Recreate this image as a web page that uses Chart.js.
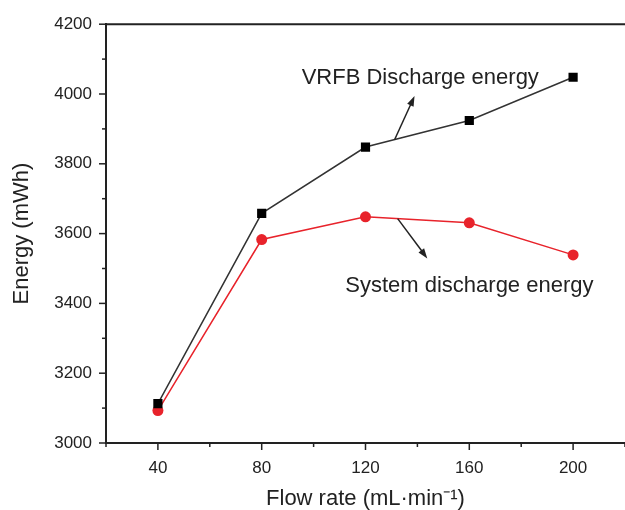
<!DOCTYPE html>
<html>
<head>
<meta charset="utf-8">
<script src="https://cdn.jsdelivr.net/npm/chart.js@4/dist/chart.umd.min.js"></script>
<style>
    html, body { margin: 0; padding: 0; background: #fff; overflow: hidden; }
    #wrap { width: 625px; height: 510px; overflow: hidden; }
</style>
</head>
<body>
<div id="wrap"><canvas id="energyChart" width="640" height="510"></canvas></div>
<script>
// ================= DATA =================
const flowRates = [40, 80, 120, 160, 200];
const vrfbEnergy = [3113, 3658, 3848, 3924, 4048];
const systemEnergy = [3093, 3583, 3648, 3631, 3539];
const xMajorTicks = [40, 80, 120, 160, 200];
const yMajorTicks = [3000, 3200, 3400, 3600, 3800, 4000, 4200];

const FONT = "'Liberation Sans', Arial, Helvetica, sans-serif";
const INK = "#222";

// text + arrows placed in data coordinates
const notes = [
    { text: "VRFB Discharge energy", x: 95.4, y: 4029, from: [131.2, 3869], to: [138.9, 3994] },
    { text: "System discharge energy", x: 112.2, y: 3434, from: [132.4, 3643], to: [143.8, 3529] }
];

function toPoints(xs, ys) {
    return xs.map((x, i) => ({ x: x, y: ys[i] }));
}

// frame top line, tick marks, notes
const decorPlugin = {
    id: "decor",
    afterDraw(chart) {
        const ctx = chart.ctx;
        const area = chart.chartArea;
        const xs = chart.scales.x;
        const ys = chart.scales.y;
        ctx.save();
        ctx.strokeStyle = INK;
        ctx.lineWidth = 2;
        ctx.beginPath();
        ctx.moveTo(area.left - 1, area.top);
        ctx.lineTo(area.right, area.top);
        ctx.stroke();

        ctx.lineWidth = 1.5;
        ys.ticks.forEach(t => {
            const len = yMajorTicks.includes(t.value) ? 7 : 4;
            const py = ys.getPixelForValue(t.value);
            ctx.beginPath();
            ctx.moveTo(area.left, py);
            ctx.lineTo(area.left - len, py);
            ctx.stroke();
        });
        xs.ticks.forEach(t => {
            const len = xMajorTicks.includes(t.value) ? 7 : 4;
            const px = xs.getPixelForValue(t.value);
            ctx.beginPath();
            ctx.moveTo(px, area.bottom);
            ctx.lineTo(px, area.bottom + len);
            ctx.stroke();
        });

        notes.forEach(n => {
            ctx.fillStyle = INK;
            ctx.font = "22px " + FONT;
            ctx.textAlign = "left";
            ctx.textBaseline = "alphabetic";
            ctx.fillText(n.text, xs.getPixelForValue(n.x), ys.getPixelForValue(n.y));

            const x1 = xs.getPixelForValue(n.from[0]), y1 = ys.getPixelForValue(n.from[1]);
            const x2 = xs.getPixelForValue(n.to[0]), y2 = ys.getPixelForValue(n.to[1]);
            const ang = Math.atan2(y2 - y1, x2 - x1);
            ctx.lineWidth = 1.5;
            ctx.beginPath();
            ctx.moveTo(x1, y1);
            ctx.lineTo(x2 - 6 * Math.cos(ang), y2 - 6 * Math.sin(ang));
            ctx.stroke();
            ctx.beginPath();
            ctx.moveTo(x2, y2);
            ctx.lineTo(x2 - 10 * Math.cos(ang) + 3.5 * Math.sin(ang), y2 - 10 * Math.sin(ang) - 3.5 * Math.cos(ang));
            ctx.lineTo(x2 - 10 * Math.cos(ang) - 3.5 * Math.sin(ang), y2 - 10 * Math.sin(ang) + 3.5 * Math.cos(ang));
            ctx.closePath();
            ctx.fill();
        });
        ctx.restore();
    }
};

new Chart(document.getElementById("energyChart"), {
    type: "line",
    data: {
        datasets: [{
            label: "VRFB Discharge energy",
            data: toPoints(flowRates, vrfbEnergy),
            borderColor: "#333",
            backgroundColor: "#000",
            borderWidth: 1.5,
            pointStyle: "rect",
            pointRadius: 6.5,
            pointBorderWidth: 0,
            tension: 0
        }, {
            label: "System discharge energy",
            data: toPoints(flowRates, systemEnergy),
            borderColor: "#e8232b",
            backgroundColor: "#e8232b",
            borderWidth: 1.5,
            pointStyle: "circle",
            pointRadius: 5.5,
            pointBorderWidth: 0,
            tension: 0
        }]
    },
    options: {
        responsive: false,
        animation: false,
        layout: { padding: { top: 23, right: 9, left: 0, bottom: 0 } },
        plugins: {
            legend: { display: false },
            tooltip: { enabled: false }
        },
        scales: {
            x: {
                type: "linear",
                min: 20,
                max: 220,
                afterFit: s => { s.height = 67; },
                grid: { display: false, drawTicks: false },
                border: { display: true, color: INK, width: 2 },
                ticks: {
                    stepSize: 20,
                    padding: 15,
                    color: INK,
                    font: { family: FONT, size: 17 },
                    maxRotation: 0,
                    autoSkip: false,
                    callback: v => xMajorTicks.includes(v) ? String(v) : ""
                },
                title: {
                    display: true,
                    text: "Flow rate (mL·min⁻¹)",
                    color: INK,
                    font: { family: FONT, size: 22, lineHeight: 1 },
                    padding: { top: 0, bottom: 0 }
                }
            },
            y: {
                min: 3000,
                max: 4200,
                afterFit: s => { s.width = 106; },
                grid: { display: false, drawTicks: false },
                border: { display: true, color: INK, width: 2 },
                ticks: {
                    stepSize: 100,
                    padding: 14,
                    color: INK,
                    font: { family: FONT, size: 17 },
                    autoSkip: false,
                    callback: v => yMajorTicks.includes(v) ? String(v) : ""
                },
                title: {
                    display: true,
                    text: "Energy (mWh)",
                    color: INK,
                    font: { family: FONT, size: 22, lineHeight: 1 },
                    padding: { top: 11, bottom: 0 }
                }
            }
        }
    },
    plugins: [decorPlugin]
});
</script>
</body>
</html>
